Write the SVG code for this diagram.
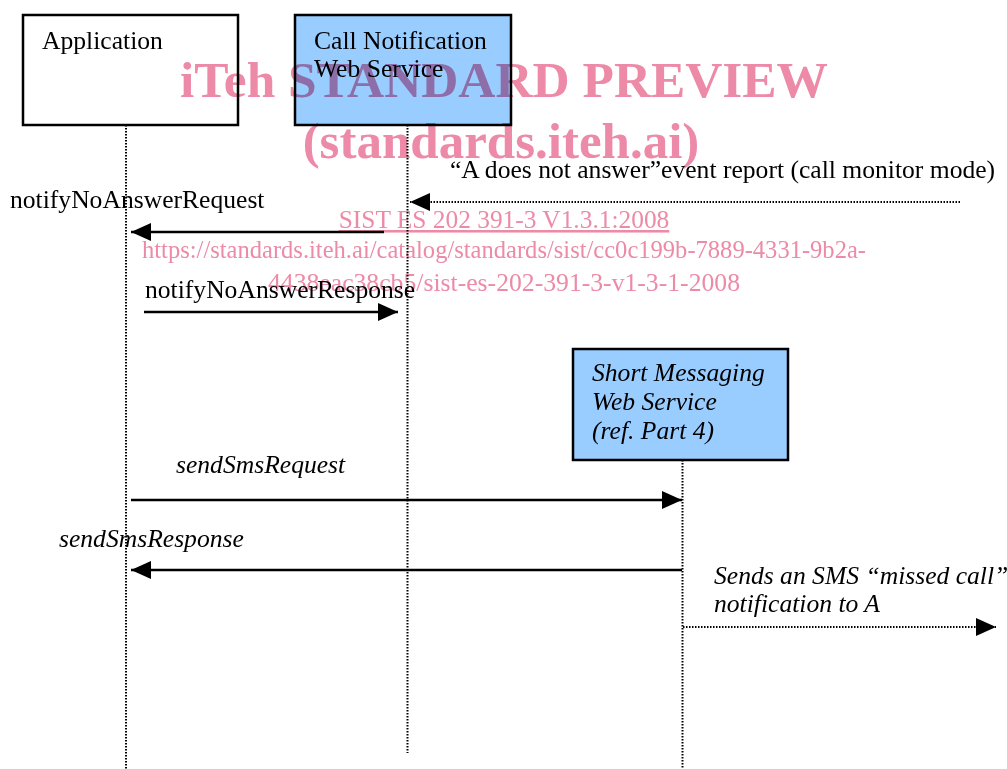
<svg xmlns="http://www.w3.org/2000/svg" width="1007" height="769" viewBox="0 0 1007 769">
<style>
  .box { stroke: #000; stroke-width: 2.5; }
  .plain { fill: #fff; }
  .blue { fill: #99ccff; }
  .life { stroke: #000; stroke-width: 2; stroke-dasharray: 1.5 1.5; fill: none; }
  .msg { stroke: #000; stroke-width: 2.5; fill: none; marker-end: url(#ah); }
  .dot { stroke: #000; stroke-width: 2; stroke-dasharray: 1.5 1.5; fill: none; marker-end: url(#ah); }
  text { font-family: "Liberation Serif", "Times New Roman", serif; font-size: 25.6px; fill: #000; }
  .it { font-style: italic; }
  .wm text { fill: #ec8aa8; text-anchor: middle; font-size: 25.4px; }
  .wm .big { font-weight: bold; font-size: 51px; }
</style>
<defs>
  <marker id="ah" markerUnits="userSpaceOnUse" markerWidth="20" markerHeight="18" refX="20" refY="9" orient="auto">
    <path d="M0,0 L20,9 L0,18 z" fill="#000"/>
  </marker>
</defs>
<rect width="1007" height="769" fill="#fff"/>

<g id="lifelines">
  <line class="life" x1="126" y1="125" x2="126" y2="769"/>
  <line class="life" x1="407.5" y1="125" x2="407.5" y2="753"/>
  <line class="life" x1="682.5" y1="460" x2="682.5" y2="769"/>
</g>

<g id="application">
  <rect class="box plain" x="23" y="15" width="215" height="110"/>
  <text x="42" y="49">Application</text>
</g>

<g id="call-notification">
  <rect class="box blue" x="295" y="15" width="216" height="110"/>
  <text x="314" y="49">Call Notification</text>
  <text x="314" y="77">Web Service</text>
</g>

<g id="short-messaging">
  <rect class="box blue" x="573" y="349" width="215" height="111"/>
  <text class="it" x="592" y="381">Short Messaging</text>
  <text class="it" x="592" y="410">Web Service</text>
  <text class="it" x="592" y="439">(ref. Part 4)</text>
</g>

<g id="connectors">
  <line class="dot" x1="960" y1="202" x2="410" y2="202"/>
  <line class="msg" x1="384" y1="232" x2="131" y2="232"/>
  <line class="msg" x1="144" y1="312" x2="398" y2="312"/>
  <line class="msg" x1="131" y1="500" x2="682" y2="500"/>
  <line class="msg" x1="682" y1="570" x2="131" y2="570"/>
  <line class="dot" x1="683" y1="627" x2="996" y2="627"/>
</g>

<g id="labels">
  <text x="450" y="178">“A does not answer”event report (call monitor mode)</text>
  <text x="10" y="208">notifyNoAnswerRequest</text>
  <text x="145" y="298">notifyNoAnswerResponse</text>
  <text class="it" x="176" y="473">sendSmsRequest</text>
  <text class="it" x="59" y="547">sendSmsResponse</text>
  <text class="it" x="714" y="584">Sends an SMS “missed call”</text>
  <text class="it" x="714" y="612">notification to A</text>
</g>

<g id="watermark" class="wm" style="mix-blend-mode: multiply">
  <text class="big" x="504" y="97" textLength="648" lengthAdjust="spacingAndGlyphs">iTeh STANDARD PREVIEW</text>
  <text class="big" x="501" y="158">(standards.iteh.ai)</text>
  <text x="504" y="228" text-decoration="underline">SIST ES 202 391-3 V1.3.1:2008</text>
  <text x="504" y="258" textLength="724" lengthAdjust="spacingAndGlyphs">https://standards.iteh.ai/catalog/standards/sist/cc0c199b-7889-4331-9b2a-</text>
  <text x="504" y="291" textLength="472" lengthAdjust="spacingAndGlyphs">4438eac38cb5/sist-es-202-391-3-v1-3-1-2008</text>
</g>
</svg>
